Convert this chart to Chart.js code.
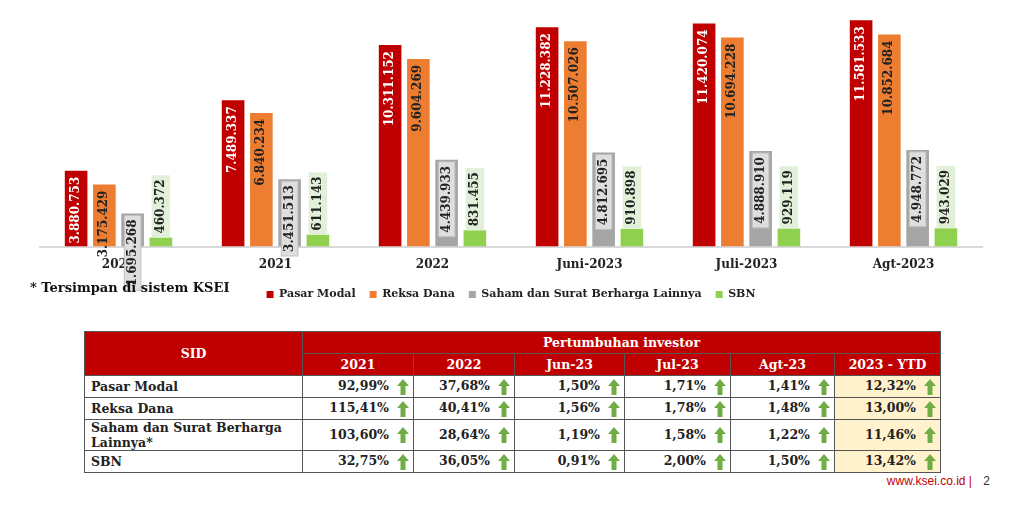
<!DOCTYPE html>
<html><head><meta charset="utf-8">
<script src="https://cdn.jsdelivr.net/npm/chart.js@4"></script>
<style>
body{margin:0;background:#fff;width:1024px;height:506px;position:relative;overflow:hidden;font-family:"Liberation Serif",serif;}
#wrap{position:absolute;left:0;top:0;width:1000px;height:310px;}
#note{position:absolute;left:30px;top:280px;font:bold 13px "DejaVu Serif";color:#111;}
table{position:absolute;left:84px;top:331px;border-collapse:collapse;font:bold 12.5px "DejaVu Serif";color:#222;}
td,th{border:1px solid #555;height:21px;padding:0 6px;}
th{background:#c00000;color:#fff;font-weight:bold;}
td.n{text-align:right;padding-right:4px}
td.y{background:#fff2cc}
.ar{display:inline-block;vertical-align:middle;margin-left:8px}
#foot{position:absolute;right:34px;top:474px;font:12px "Liberation Sans";color:#c00000}
#foot b{color:#333;font-weight:normal;margin-left:8px}
</style></head><body>
<div id="wrap"><canvas id="c"></canvas></div>
<div id="note">* Tersimpan di sistem KSEI</div>
<table id="t"></table>
<div id="foot">www.ksei.co.id | <b>2</b></div>
<script>
const categories=["2020","2021","2022","Juni-2023","Juli-2023","Agt-2023"];
const seriesNames=["Pasar Modal","Reksa Dana","Saham dan Surat Berharga Lainnya","SBN"];
const pasarModal=[3880753,7489337,10311152,11228382,11420074,11581533];
const reksaDana=[3175429,6840234,9604269,10507026,10694228,10852684];
const saham=[1695268,3451513,4439933,4812695,4888910,4948772];
const sbn=[460372,611143,831455,910898,929119,943029];
const tableCols=["2021","2022","Jun-23","Jul-23","Agt-23","2023 - YTD"];
const tableRows=["Pasar Modal","Reksa Dana","Saham dan Surat Berharga Lainnya*","SBN"];
const growth=[["92,99%","37,68%","1,50%","1,71%","1,41%","12,32%"],
["115,41%","40,41%","1,56%","1,78%","1,48%","13,00%"],
["103,60%","28,64%","1,19%","1,58%","1,22%","11,46%"],
["32,75%","36,05%","0,91%","2,00%","1,50%","13,42%"]];
const colors=["#c00000","#ed7d31","#a5a5a5","#8fd14f"];
const fmt=v=>String(v).replace(/\B(?=(\d{3})+(?!\d))/g,".");
const labelPlugin={id:"lbl",afterDatasetsDraw(ch){
 const ctx=ch.ctx;ctx.save();ctx.font='bold 12px "DejaVu Serif"';
 ch.data.datasets.forEach((ds,di)=>{ch.getDatasetMeta(di).data.forEach((bar,i)=>{
  const t=fmt(ds.data[i]);const w=ctx.measureText(t).width+8;const bw=bar.width;
  let x=bar.x, yTop;
  if(di===2){yTop=bar.y+2;ctx.fillStyle="#dedede";ctx.strokeStyle="#bfbfbf";ctx.lineWidth=1;ctx.fillRect(x-bw/2+3,yTop,bw-6,w);ctx.strokeRect(x-bw/2+3,yTop,bw-6,w);}
  else if(di===3){yTop=bar.y-w;ctx.fillStyle="#e2f0d9";ctx.fillRect(x-bw/2+2,yTop,bw-4,w);}
  else yTop=bar.y+2;
  ctx.save();ctx.translate(x,yTop+4);ctx.rotate(-Math.PI/2);
  ctx.fillStyle=di===0?"#fff":"#222";ctx.textAlign="right";ctx.textBaseline="middle";
  ctx.fillText(t,0,0);ctx.restore();
 });});ctx.restore();}};
new Chart(document.getElementById("c"),{type:"bar",
 data:{labels:categories,datasets:[pasarModal,reksaDana,saham,sbn].map((d,i)=>({label:seriesNames[i],data:d,backgroundColor:colors[i],barPercentage:0.8,categoryPercentage:0.72}))},
 options:{responsive:true,maintainAspectRatio:false,animation:false,
  layout:{padding:{left:40,right:18,top:16}},
  plugins:{tooltip:{enabled:false},legend:{position:"bottom",align:"center",labels:{boxWidth:7,boxHeight:7,padding:14,color:"#222",font:{family:"DejaVu Serif",weight:"bold",size:11}}}},
  scales:{y:{display:false,min:0,max:11800000},x:{grid:{display:false},border:{color:"#d9d9d9",width:2},ticks:{color:"#222",font:{family:"DejaVu Serif",weight:"bold",size:12}}}}},
 plugins:[labelPlugin]});
const arrow='<svg class="ar" width="12" height="16" viewBox="0 0 12 16"><path d="M6 0L12 7H8.5V16H3.5V7H0Z" fill="#70ad47"/></svg>';
let h='<tr><th rowspan="2" style="width:205px">SID</th><th colspan="6">Pertumbuhan investor</th></tr><tr>'+tableCols.map((c,i)=>`<th style="width:${[98,88,97,93,91,93][i]}px">${c}</th>`).join("")+'</tr>';
tableRows.forEach((r,ri)=>{h+='<tr><td>'+r+'</td>'+growth[ri].map((g,ci)=>`<td class="n${ci==5?' y':''}">${g}${arrow}</td>`).join("")+'</tr>';});
document.getElementById("t").innerHTML=h;
</script></body></html>
